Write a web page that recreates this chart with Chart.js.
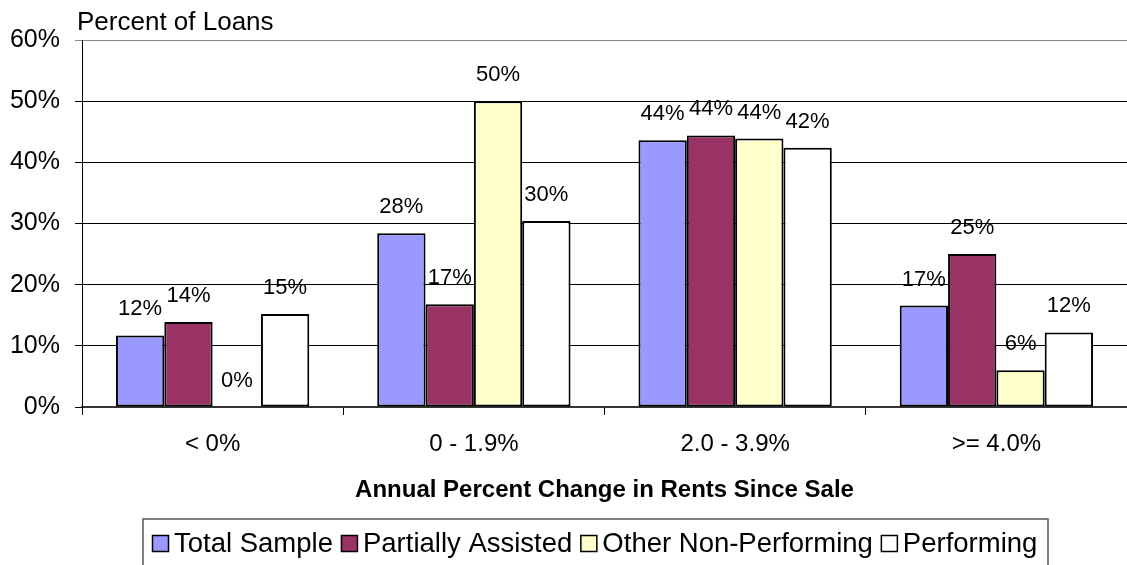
<!DOCTYPE html>
<html>
<head>
<meta charset="utf-8">
<script src="https://cdn.jsdelivr.net/npm/chart.js@4.4.0/dist/chart.umd.min.js"></script>
<style>
  html, body { margin: 0; padding: 0; background: #ffffff; }
  #wrap { width: 1127px; height: 565px; }
</style>
</head>
<body>
<div id="wrap"><canvas id="c" width="1127" height="565"></canvas></div>
<script>
// Rent-change buckets and the share of loans in each, by loan group (percent)
const categories = ['< 0%', '0 - 1.9%', '2.0 - 3.9%', '>= 4.0%'];
const totalSample = [11.7, 28.4, 43.6, 16.6];
const partiallyAssisted = [13.9, 16.8, 44.4, 25.0];
const otherNonPerforming = [0, 50.0, 43.9, 6.0];
const performing = [15.2, 30.4, 42.4, 12.2];

const seriesNames = ['Total Sample', 'Partially Assisted', 'Other Non-Performing', 'Performing'];
const seriesColors = ['#9999FF', '#993366', '#FFFFCC', '#FFFFFF'];
const seriesValues = [totalSample, partiallyAssisted, otherNonPerforming, performing];

const yAxisMax = 60;
const yAxisStep = 10;
const yAxisCaption = 'Percent of Loans';
const xAxisCaption = 'Annual Percent Change in Rents Since Sale';

const FONT = '"Liberation Sans", Arial, Helvetica, sans-serif';

// Value labels above each bar
const barLabels = {
  id: 'barLabels',
  afterDatasetsDraw(chart) {
    const ctx = chart.ctx;
    ctx.save();
    ctx.font = '22px ' + FONT;
    ctx.fillStyle = '#000';
    ctx.textAlign = 'center';
    ctx.textBaseline = 'middle';
    chart.data.datasets.forEach((ds, i) => {
      const meta = chart.getDatasetMeta(i);
      meta.data.forEach((bar, j) => {
        ctx.fillText(Math.round(ds.data[j]) + '%', bar.x, bar.y - 26);
      });
    });
    ctx.restore();
  }
};

// Caption over the value axis and the framed legend under the chart
const decorations = {
  id: 'decorations',
  afterDraw(chart) {
    const ctx = chart.ctx;
    ctx.save();
    ctx.fillStyle = '#000';
    ctx.font = '26px ' + FONT;
    ctx.textAlign = 'left';
    ctx.textBaseline = 'alphabetic';
    ctx.fillText(yAxisCaption, 77, 30);

    // legend frame
    ctx.strokeStyle = '#555';
    ctx.lineWidth = 1.5;
    ctx.beginPath();
    ctx.moveTo(143, 580);
    ctx.lineTo(143, 519);
    ctx.lineTo(1048, 519);
    ctx.lineTo(1048, 580);
    ctx.stroke();

    // legend entries
    ctx.font = '27.5px ' + FONT;
    const box = 17, gapAfterBox = 5, gapAfterText = 8;
    const baseline = 552;
    let x = 152;
    seriesNames.forEach((name, i) => {
      ctx.fillStyle = seriesColors[i];
      ctx.fillRect(x, baseline - box, box, box);
      ctx.strokeStyle = '#000';
      ctx.lineWidth = 1.5;
      ctx.strokeRect(x + 0.5, baseline - box + 0.5, box - 1, box - 1);
      x += box + gapAfterBox;
      ctx.fillStyle = '#000';
      ctx.fillText(name, x, baseline);
      x += ctx.measureText(name).width + gapAfterText;
    });
    ctx.restore();
  }
};

new Chart(document.getElementById('c'), {
  type: 'bar',
  data: {
    labels: categories,
    datasets: seriesNames.map((name, i) => ({
      label: name,
      data: seriesValues[i],
      backgroundColor: seriesColors[i],
      borderColor: '#000',
      borderWidth: 2,
      borderSkipped: false,
      categoryPercentage: 0.74,
      barPercentage: 1.0
    }))
  },
  options: {
    responsive: false,
    devicePixelRatio: 1,
    animation: false,
    layout: { padding: { top: 40, left: 0, right: 0, bottom: 0 } },
    plugins: {
      legend: { display: false },
      tooltip: { enabled: false },
      title: { display: false }
    },
    scales: {
      x: {
        offset: true,
        grid: {
          offset: true,
          drawOnChartArea: false,
          drawTicks: true,
          tickLength: 8,
          color: '#000',
          lineWidth: 1
        },
        border: { display: true, color: '#333', width: 2 },
        ticks: {
          color: '#000',
          padding: 15,
          font: { family: FONT, size: 24 }
        },
        title: {
          display: true,
          text: xAxisCaption,
          color: '#000',
          font: { family: FONT, size: 24, weight: 'bold' },
          padding: { top: 0, bottom: 60 }
        },
        afterFit(scale) { scale.height = 158; }
      },
      y: {
        min: 0,
        max: yAxisMax,
        grid: {
          drawTicks: true,
          tickLength: 7,
          lineWidth: 1,
          color: (c) => (c.tick && c.tick.value === yAxisMax ? '#888' : '#000')
        },
        border: { display: true, color: '#000', width: 1 },
        ticks: {
          stepSize: yAxisStep,
          color: '#000',
          padding: 15,
          font: { family: FONT, size: 25 },
          callback: (v) => v + '%'
        },
        afterFit(scale) { scale.width = 82; }
      }
    }
  },
  plugins: [barLabels, decorations]
});
</script>
</body>
</html>
